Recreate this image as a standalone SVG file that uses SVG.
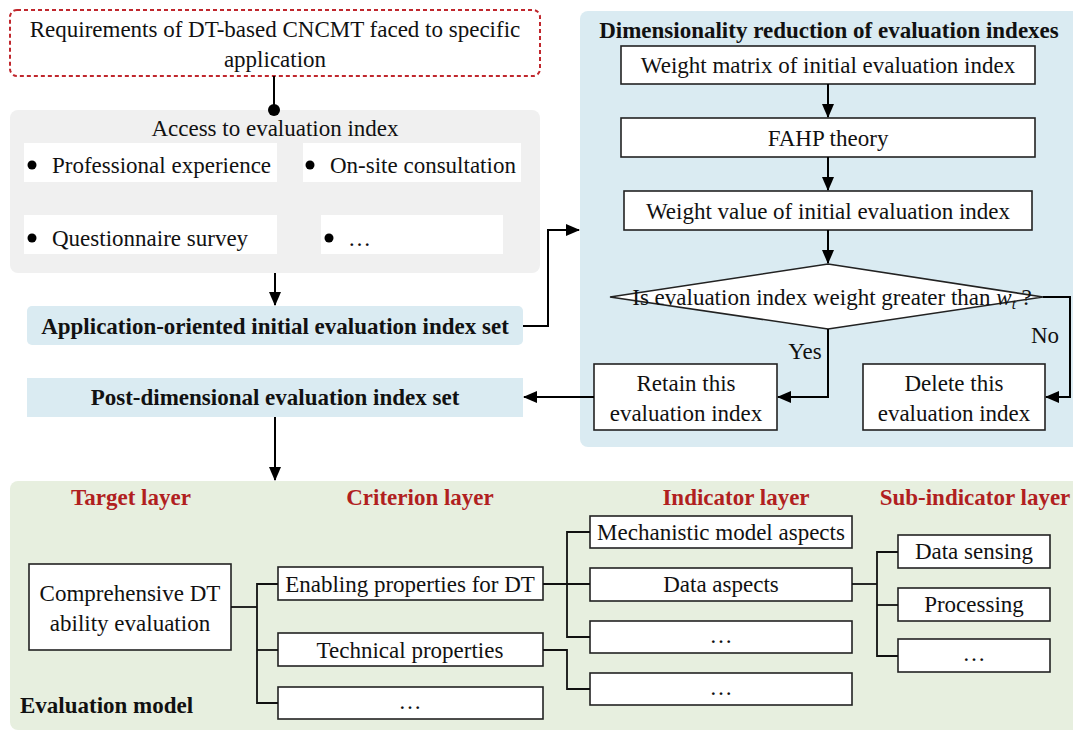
<svg xmlns="http://www.w3.org/2000/svg" width="1073" height="731" viewBox="0 0 1073 731">
<style>
text{font-family:"Liberation Serif","Times New Roman",serif;fill:#111;}
.t{font-size:23px;text-anchor:middle;}
.tb{font-size:23px;font-weight:bold;text-anchor:middle;}
.red{font-size:23px;font-weight:bold;fill:#b11f1f;text-anchor:middle;}
.box{fill:#fff;stroke:#222;stroke-width:1.6;}
.wb{fill:#fff;}
.ln{fill:none;stroke:#000;stroke-width:2;}
</style>
<defs>
<marker id="ah" markerUnits="userSpaceOnUse" markerWidth="14" markerHeight="12" refX="13" refY="6" orient="auto">
<path d="M0,0 L14,6 L0,12 Z" fill="#000"/>
</marker>
</defs>
<!-- panels -->
<rect x="10" y="110" width="530" height="163" rx="8" fill="#f0f0f0"/>
<rect x="580" y="11" width="503" height="436" rx="8" fill="#daebf2"/>
<rect x="10" y="481" width="1075" height="249" rx="8" fill="#e7efdf"/>

<g id="requirements">
<rect x="10" y="10" width="530" height="66" rx="7" fill="#fff" stroke="#c0272d" stroke-width="2" stroke-dasharray="4 3"/>
<text class="t" x="275" y="37">Requirements of DT-based CNCMT faced to specific</text>
<text class="t" x="275" y="67">application</text>
</g>
<g id="access">
<text class="t" x="275" y="136">Access to evaluation index</text>
<rect class="wb" x="24" y="143" width="253" height="39"/>
<rect class="wb" x="303" y="143" width="218" height="39"/>
<rect class="wb" x="24" y="215" width="253" height="39"/>
<rect class="wb" x="321" y="215" width="182" height="39"/>
<circle cx="32" cy="165" r="4.5" fill="#000"/>
<text class="t" x="52" y="173" style="text-anchor:start">Professional experience</text>
<circle cx="310" cy="165" r="4.5" fill="#000"/>
<text class="t" x="330" y="173" style="text-anchor:start">On-site consultation</text>
<circle cx="32" cy="238" r="4.5" fill="#000"/>
<text class="t" x="52" y="246" style="text-anchor:start">Questionnaire survey</text>
<circle cx="329" cy="238" r="4.5" fill="#000"/>
<text class="t" x="348" y="246" style="text-anchor:start">…</text>
</g>
<g id="initial-set">
<rect x="27" y="306" width="496" height="39" rx="5" fill="#daebf2"/>
<text class="tb" x="275" y="334">Application-oriented initial evaluation index set</text>
</g>
<g id="post-set">
<rect x="27" y="378" width="496" height="39" fill="#daebf2"/>
<text class="tb" x="275" y="405">Post-dimensional evaluation index set</text>
</g>
<g id="dim-reduction">
<text class="tb" x="829" y="38">Dimensionality reduction of evaluation indexes</text>
</g>
<g id="weight-matrix">
<rect class="box" x="621" y="46" width="414" height="38"/>
<text class="t" x="828" y="73">Weight matrix of initial evaluation index</text>
</g>
<g id="fahp">
<rect class="box" x="621" y="118" width="414" height="39"/>
<text class="t" x="828" y="146">FAHP theory</text>
</g>
<g id="weight-value">
<rect class="box" x="624" y="191" width="408" height="39"/>
<text class="t" x="828" y="219">Weight value of initial evaluation index</text>
</g>
<g id="decision">
<polygon points="828,264 1043,297 828,329 610,297" fill="#fff" stroke="#222" stroke-width="1.6"/>
<text class="t" x="832" y="305">Is evaluation index weight greater than <tspan font-style="italic">w</tspan><tspan font-style="italic" font-size="15" dy="4">t</tspan><tspan dy="-4"> ?</tspan></text>
</g>
<g id="retain">
<rect class="box" x="594" y="364" width="183" height="66"/>
<text class="t" x="686" y="391">Retain this</text>
<text class="t" x="686" y="421">evaluation index</text>
</g>
<g id="delete">
<rect class="box" x="863" y="364" width="182" height="66"/>
<text class="t" x="954" y="391">Delete this</text>
<text class="t" x="954" y="421">evaluation index</text>
</g>
<text class="t" x="805" y="359">Yes</text>
<text class="t" x="1045" y="343">No</text>

<g id="model-labels">
<text class="red" x="131" y="505">Target layer</text>
<text class="red" x="420" y="505">Criterion layer</text>
<text class="red" x="736" y="505">Indicator layer</text>
<text class="red" x="975" y="505">Sub-indicator layer</text>
<text x="20" y="713" style="font-size:23px;font-weight:bold">Evaluation model</text>
</g>
<g id="target">
<rect class="box" x="29" y="564" width="202" height="86"/>
<text class="t" x="130" y="601">Comprehensive DT</text>
<text class="t" x="130" y="631">ability evaluation</text>
</g>
<g id="enabling">
<rect class="box" x="278" y="567" width="265" height="33"/>
<text class="t" x="410" y="592">Enabling properties for DT</text>
</g>
<g id="technical">
<rect class="box" x="278" y="633" width="265" height="33"/>
<text class="t" x="410" y="658">Technical properties</text>
</g>
<g id="criterion-more">
<rect class="box" x="278" y="687" width="265" height="32"/>
<text class="t" x="410" y="709">…</text>
</g>
<g id="mechanistic">
<rect class="box" x="590" y="516" width="262" height="32"/>
<text class="t" x="721" y="540">Mechanistic model aspects</text>
</g>
<g id="data-aspects">
<rect class="box" x="590" y="568" width="262" height="33"/>
<text class="t" x="721" y="592">Data aspects</text>
</g>
<g id="indicator-more1">
<rect class="box" x="590" y="621" width="262" height="32"/>
<text class="t" x="721" y="643">…</text>
</g>
<g id="indicator-more2">
<rect class="box" x="590" y="673" width="262" height="32"/>
<text class="t" x="721" y="695">…</text>
</g>
<g id="data-sensing">
<rect class="box" x="898" y="535" width="152" height="33"/>
<text class="t" x="974" y="559">Data sensing</text>
</g>
<g id="processing">
<rect class="box" x="898" y="588" width="152" height="33"/>
<text class="t" x="974" y="612">Processing</text>
</g>
<g id="sub-more">
<rect class="box" x="898" y="639" width="152" height="33"/>
<text class="t" x="974" y="661">…</text>
</g>

<g id="connectors">
<line class="ln" x1="274" y1="76" x2="274" y2="108"/>
<circle cx="274" cy="110" r="6" fill="#000"/>
<path class="ln" d="M275,273 V305" marker-end="url(#ah)"/>
<path class="ln" d="M523,326 H548 V230 H579" marker-end="url(#ah)"/>
<path class="ln" d="M828,84 V117" marker-end="url(#ah)"/>
<path class="ln" d="M828,157 V190" marker-end="url(#ah)"/>
<path class="ln" d="M828,230 V263" marker-end="url(#ah)"/>
<path class="ln" d="M828,329 V397 H778" marker-end="url(#ah)"/>
<path class="ln" d="M1043,297 H1070 V397 H1046" marker-end="url(#ah)"/>
<path class="ln" d="M594,397 H524" marker-end="url(#ah)"/>
<path class="ln" d="M275,417 V480" marker-end="url(#ah)"/>
<g fill="none" stroke="#111" stroke-width="1.8">
<path d="M231,607 H257"/>
<path d="M278,584 H257 V703 H278"/>
<path d="M257,650 H278"/>
<path d="M543,584 H590"/>
<path d="M590,532 H567 V637 H590"/>
<path d="M543,650 H567 V689 H590"/>
<path d="M852,584 H877"/>
<path d="M898,552 H877 V656 H898"/>
<path d="M877,605 H898"/>
</g>
</g>
</svg>
